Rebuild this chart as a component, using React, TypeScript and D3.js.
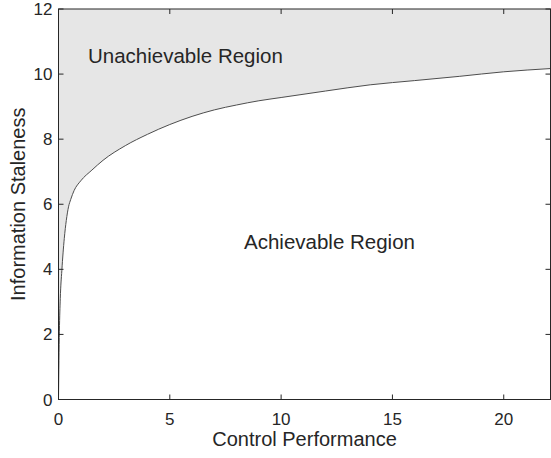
import React, { useEffect, useRef } from 'react';
import * as d3 from 'd3';

// frontier
const perfValues = [0, 0.02, 0.04, 0.08, 0.15, 0.26, 0.35, 0.45, 0.55, 0.7, 1, 1.5, 2, 3, 4, 5, 6, 7, 8, 9, 10, 12, 14, 16, 18, 20, 22.1];
const stalenessValues = [0, 1.2, 2.1, 3.1, 3.96, 4.95, 5.5, 5.92, 6.15, 6.42, 6.72, 7.05, 7.35, 7.8, 8.15, 8.45, 8.7, 8.9, 9.05, 9.18, 9.28, 9.48, 9.67, 9.8, 9.93, 10.07, 10.17];
const xTicks = [0, 5, 10, 15, 20];
const yTicks = [0, 2, 4, 6, 8, 10, 12];

const WIDTH = 551;
const HEIGHT = 458;
const FONT = '"Liberation Sans", Arial, Helvetica, sans-serif';
const TEXT = '#262626';

export default function App() {
  const svgRef = useRef<SVGSVGElement | null>(null);

  useEffect(() => {
    const svg = d3.select(svgRef.current);
    svg.selectAll('*').remove();

    const left = 58.5, right = 550.5, top = 9, bottom = 399.5;

    const x = d3.scaleLinear().domain([0, 22.1]).range([left, right]);
    const y = d3.scaleLinear().domain([0, 12]).range([bottom, top]);

    const pts = perfValues.map((p, i) => [p, stalenessValues[i]] as [number, number]);

    // shaded unachievable area above the frontier
    const area = d3.area<[number, number]>()
      .x(d => x(d[0]))
      .y0(y(12))
      .y1(d => y(d[1]))
      .curve(d3.curveMonotoneX);

    svg.append('path')
      .attr('d', area(pts))
      .attr('fill', '#e6e6e6');

    const line = d3.line<[number, number]>()
      .x(d => x(d[0]))
      .y(d => y(d[1]))
      .curve(d3.curveMonotoneX);

    svg.append('path')
      .attr('d', line(pts))
      .attr('fill', 'none')
      .attr('stroke', '#4d4d4d')
      .attr('stroke-width', 1);

    // box
    svg.append('rect')
      .attr('x', left).attr('y', top)
      .attr('width', right - left).attr('height', bottom - top)
      .attr('fill', 'none')
      .attr('stroke', TEXT)
      .attr('stroke-width', 1);

    const tickLen = 5;
    // x ticks (bottom + top, inward)
    xTicks.forEach(t => {
      const px = x(t);
      svg.append('line').attr('x1', px).attr('x2', px).attr('y1', bottom).attr('y2', bottom - tickLen).attr('stroke', TEXT);
      svg.append('line').attr('x1', px).attr('x2', px).attr('y1', top).attr('y2', top + tickLen).attr('stroke', TEXT);
      svg.append('text')
        .attr('x', px).attr('y', bottom + 25)
        .attr('text-anchor', 'middle')
        .attr('font-family', FONT).attr('font-size', 17)
        .attr('fill', TEXT)
        .text(t);
    });

    yTicks.forEach(t => {
      const py = y(t);
      svg.append('line').attr('x1', left).attr('x2', left + tickLen).attr('y1', py).attr('y2', py).attr('stroke', TEXT);
      svg.append('line').attr('x1', right).attr('x2', right - tickLen).attr('y1', py).attr('y2', py).attr('stroke', TEXT);
      svg.append('text')
        .attr('x', left - 6).attr('y', py + 6)
        .attr('text-anchor', 'end')
        .attr('font-family', FONT).attr('font-size', 17)
        .attr('fill', TEXT)
        .text(t);
    });

    svg.append('text')
      .attr('x', (left + right) / 2).attr('y', 446)
      .attr('text-anchor', 'middle')
      .attr('font-family', FONT).attr('font-size', 20)
      .attr('fill', TEXT)
      .text('Control Performance');

    svg.append('text')
      .attr('transform', `translate(25, ${(top + bottom) / 2}) rotate(-90)`)
      .attr('text-anchor', 'middle')
      .attr('font-family', FONT).attr('font-size', 20)
      .attr('fill', TEXT)
      .text('Information Staleness');

    svg.append('text')
      .attr('x', 88).attr('y', 63)
      .attr('font-family', FONT).attr('font-size', 20.5)
      .attr('fill', TEXT)
      .text('Unachievable Region');

    svg.append('text')
      .attr('x', 244).attr('y', 249)
      .attr('font-family', FONT).attr('font-size', 20.5)
      .attr('fill', TEXT)
      .text('Achievable Region');
  }, []);

  return (
    <svg
      ref={svgRef}
      width={WIDTH}
      height={HEIGHT}
      style={{ position: 'absolute', left: 0, top: 0, display: 'block', background: '#fff' }}
    />
  );
}
